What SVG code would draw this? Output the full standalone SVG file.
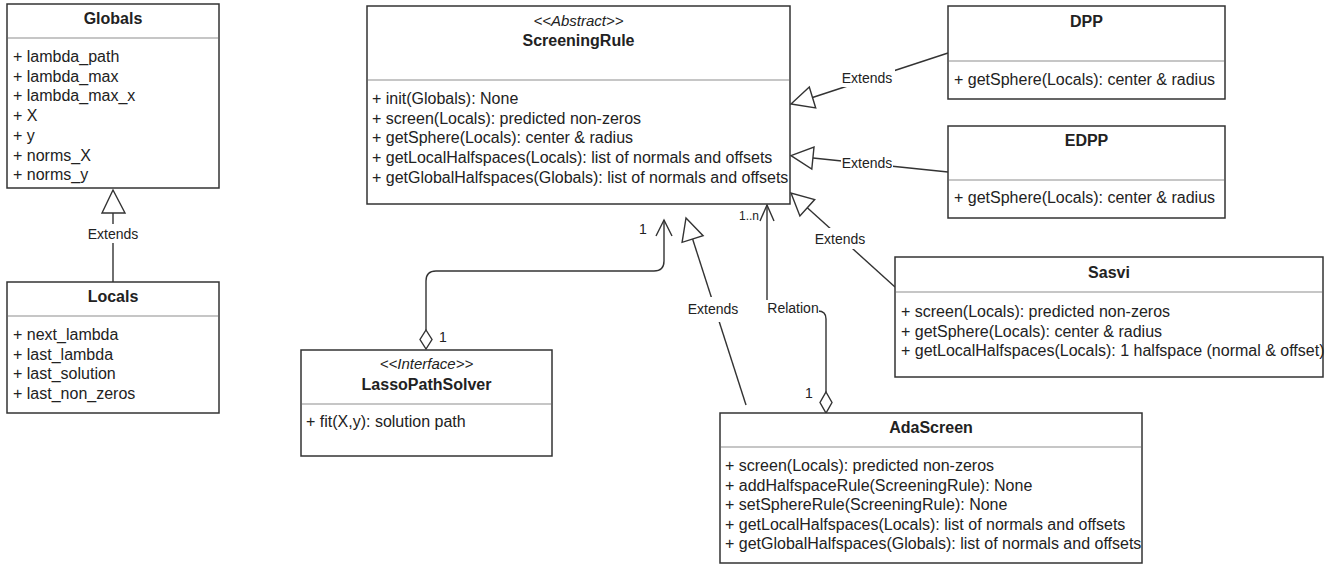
<svg xmlns="http://www.w3.org/2000/svg" width="1341" height="565" viewBox="0 0 1341 565">
<style>
text{font-family:"Liberation Sans",Arial,sans-serif;fill:#222;}
.box{fill:#fff;stroke:#333;stroke-width:1.5;}
.sep{stroke:#c6c6c6;stroke-width:2;}
.t{font-size:16px;font-weight:bold;text-anchor:middle;}
.st{font-size:15px;font-style:italic;text-anchor:middle;}
.m{font-size:16px;}
.ln{fill:none;stroke:#333;stroke-width:1.4;}
.tri{fill:#fff;stroke:#333;stroke-width:1.4;}
.lbl{font-size:14px;text-anchor:middle;}
.bg{fill:#fff;}
</style>
<rect width="1341" height="565" fill="#fff"/>

<g id="connectors">
  <!-- Locals extends Globals -->
  <line class="ln" x1="113" y1="282" x2="113" y2="213"/>
  <polygon class="tri" points="113,190 102,213 125,213"/>
  <rect class="bg" x="84" y="224" width="58" height="19"/>
  <text class="lbl" x="113" y="239">Extends</text>

  <!-- DPP extends ScreeningRule -->
  <line class="ln" x1="948" y1="53" x2="812.5" y2="97.5"/>
  <polygon class="tri" points="791,104 809.3,87 815.7,108"/>
  <rect class="bg" x="841" y="69" width="54" height="18"/>
  <text class="lbl" x="867" y="83">Extends</text>

  <!-- EDPP extends ScreeningRule -->
  <line class="ln" x1="948" y1="172" x2="812.9" y2="158"/>
  <polygon class="tri" points="791,155.7 814,147 811.8,169"/>
  <rect class="bg" x="841" y="154" width="52" height="17"/>
  <text class="lbl" x="867" y="168">Extends</text>

  <!-- Sasvi extends ScreeningRule -->
  <line class="ln" x1="895" y1="287" x2="807.3" y2="207.7"/>
  <polygon class="tri" points="791,193 799.9,215.9 814.7,199.5"/>
  <rect class="bg" x="813" y="228" width="54" height="21"/>
  <text class="lbl" x="840" y="244">Extends</text>

  <!-- AdaScreen extends ScreeningRule -->
  <line class="ln" x1="746" y1="405" x2="692.6" y2="239"/>
  <polygon class="tri" points="686,218 682.1,242.3 703.1,235.7"/>
  <rect class="bg" x="686" y="297" width="54" height="25"/>
  <text class="lbl" x="713" y="314">Extends</text>

  <!-- LassoPathSolver association -->
  <path class="ln" d="M426,330 V281 Q426,271 436,271 H654 Q664,271 664,261 V220"/>
  <path class="ln" d="M656,236 L664,220 L672,236"/>
  <polygon class="tri" points="426,330 432,339.5 426,349 420,339.5"/>
  <text class="lbl" x="643" y="234">1</text>
  <text class="lbl" x="443" y="342">1</text>

  <!-- AdaScreen relation -->
  <path class="ln" d="M826,392 V319 Q826,311 818,311 H775 Q767,311 767,303 V205"/>
  <path class="ln" d="M760,221 L767,205 L774,221"/>
  <polygon class="tri" points="826,392 832,402.5 826,413 820,402.5"/>
  <rect class="bg" x="766" y="300" width="53" height="18"/>
  <text class="lbl" x="793" y="313">Relation</text>
  <text class="lbl" x="749" y="220" style="font-size:12px">1..n</text>
  <text class="lbl" x="809" y="398">1</text>
</g>

<g id="Globals">
  <rect class="box" x="7" y="4" width="212" height="184"/>
  <text class="t" x="113" y="24">Globals</text>
  <line class="sep" x1="8" y1="38" x2="218" y2="38"/>
  <text class="m" x="13" y="62">+ lambda_path</text>
  <text class="m" x="13" y="81.7">+ lambda_max</text>
  <text class="m" x="13" y="101.4">+ lambda_max_x</text>
  <text class="m" x="13" y="121.1">+ X</text>
  <text class="m" x="13" y="140.8">+ y</text>
  <text class="m" x="13" y="160.5">+ norms_X</text>
  <text class="m" x="13" y="180.2">+ norms_y</text>
</g>

<g id="Locals">
  <rect class="box" x="7" y="282" width="212" height="131"/>
  <text class="t" x="113" y="302">Locals</text>
  <line class="sep" x1="8" y1="316" x2="218" y2="316"/>
  <text class="m" x="13" y="340">+ next_lambda</text>
  <text class="m" x="13" y="359.7">+ last_lambda</text>
  <text class="m" x="13" y="379.4">+ last_solution</text>
  <text class="m" x="13" y="399.1">+ last_non_zeros</text>
</g>

<g id="ScreeningRule">
  <rect class="box" x="367" y="6" width="423" height="198"/>
  <text class="st" x="578.5" y="26">&lt;&lt;Abstract&gt;&gt;</text>
  <text class="t" x="578.5" y="46">ScreeningRule</text>
  <line class="sep" x1="368" y1="80" x2="789" y2="80"/>
  <text class="m" x="372" y="104">+ init(Globals): None</text>
  <text class="m" x="372" y="123.7">+ screen(Locals): predicted non-zeros</text>
  <text class="m" x="372" y="143.4">+ getSphere(Locals): center &amp; radius</text>
  <text class="m" x="372" y="163.1">+ getLocalHalfspaces(Locals): list of normals and offsets</text>
  <text class="m" x="372" y="182.8">+ getGlobalHalfspaces(Globals): list of normals and offsets</text>
</g>

<g id="DPP">
  <rect class="box" x="948" y="6" width="277" height="93"/>
  <text class="t" x="1086.5" y="27">DPP</text>
  <line class="sep" x1="949" y1="61" x2="1224" y2="61"/>
  <text class="m" x="954" y="85">+ getSphere(Locals): center &amp; radius</text>
</g>

<g id="EDPP">
  <rect class="box" x="948" y="126" width="277" height="92"/>
  <text class="t" x="1086.5" y="146">EDPP</text>
  <line class="sep" x1="949" y1="180" x2="1224" y2="180"/>
  <text class="m" x="954" y="203">+ getSphere(Locals): center &amp; radius</text>
</g>

<g id="Sasvi">
  <rect class="box" x="895" y="257" width="428" height="120"/>
  <text class="t" x="1109" y="278">Sasvi</text>
  <line class="sep" x1="896" y1="292" x2="1322" y2="292"/>
  <text class="m" x="901" y="317">+ screen(Locals): predicted non-zeros</text>
  <text class="m" x="901" y="336.5">+ getSphere(Locals): center &amp; radius</text>
  <text class="m" x="901" y="356">+ getLocalHalfspaces(Locals): 1 halfspace (normal &amp; offset)</text>
</g>

<g id="LassoPathSolver">
  <rect class="box" x="301" y="350" width="251" height="106"/>
  <text class="st" x="426.5" y="369">&lt;&lt;Interface&gt;&gt;</text>
  <text class="t" x="426.5" y="390">LassoPathSolver</text>
  <line class="sep" x1="302" y1="404" x2="551" y2="404"/>
  <text class="m" x="306" y="427">+ fit(X,y): solution path</text>
</g>

<g id="AdaScreen">
  <rect class="box" x="720" y="413" width="422" height="150"/>
  <text class="t" x="931" y="433">AdaScreen</text>
  <line class="sep" x1="721" y1="447" x2="1141" y2="447"/>
  <text class="m" x="725" y="471">+ screen(Locals): predicted non-zeros</text>
  <text class="m" x="725" y="490.5">+ addHalfspaceRule(ScreeningRule): None</text>
  <text class="m" x="725" y="510">+ setSphereRule(ScreeningRule): None</text>
  <text class="m" x="725" y="529.5">+ getLocalHalfspaces(Locals): list of normals and offsets</text>
  <text class="m" x="725" y="549">+ getGlobalHalfspaces(Globals): list of normals and offsets</text>
</g>
</svg>
